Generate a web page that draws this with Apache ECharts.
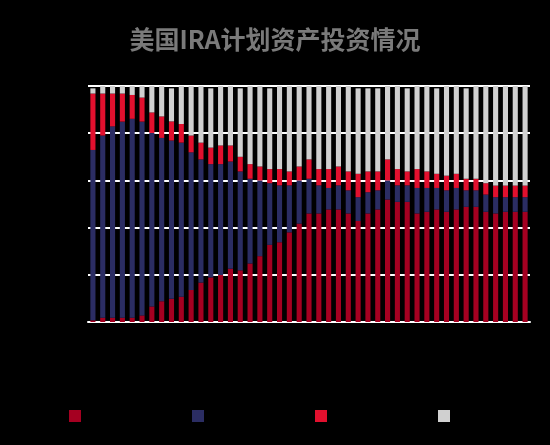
<!DOCTYPE html>
<html>
<head>
<meta charset="utf-8">
<script src="https://cdn.jsdelivr.net/npm/echarts@6/dist/echarts.min.js"></script>
<style>html,body{margin:0;background:#000}#main{width:550px;height:445px}</style>
</head>
<body>
<div id="main"></div>
<script>
// 各类资产占比(%)，按期
const periods = Array.from({length: 45}, (_, i) => String(i + 1));
const equity = [0.7,1.8,1.8,1.8,1.8,2.8,6.6,8.8,9.8,10.7,13.6,16.7,18.9,19.9,22.6,21.9,24.8,27.9,32.7,33.8,38.0,41.7,46.0,46.0,47.7,47.7,46.0,42.8,46.0,47.7,51.9,50.9,50.9,46.0,46.7,47.7,46.7,47.7,48.8,48.8,46.7,46.0,46.7,46.7,46.7];
const bond = [72.2,77.2,81.1,83.1,84.3,82.1,73.5,69.2,67.1,65.3,58.3,52.2,48.0,47.0,45.4,41.9,35.9,32.1,26.1,24.1,19.9,18.3,14.7,11.9,9.1,10.2,9.8,10.1,9.0,8.1,8.1,7.0,7.0,10.8,10.1,9.1,9.1,9.1,7.0,7.0,7.3,6.9,6.2,6.2,6.2];
const cash = [23.9,17.8,13.9,11.9,10.1,10.2,8.7,9.1,8.1,7.9,7.1,7.1,7.0,7.9,6.8,6.2,6.2,5.9,6.0,6.9,5.9,5.9,8.2,6.9,8.0,8.0,8.0,9.9,8.8,8.0,8.9,6.9,5.9,8.0,7.0,6.0,6.2,6.0,4.9,4.9,4.8,4.9,4.9,4.9,4.9];
const other = [2.2,3.2,3.2,3.2,3.8,4.9,11.2,12.9,14.0,16.1,21.0,24.0,25.1,25.2,25.2,29.0,33.1,34.1,34.2,35.2,36.2,34.1,31.1,35.2,35.2,34.1,36.2,36.2,35.2,35.2,31.1,35.2,35.2,35.2,36.2,36.2,38.0,37.2,38.3,39.3,41.2,42.2,42.2,42.2,42.2];

const chart = echarts.init(document.getElementById('main'));

function bar(name, data, color) {
  return {name: name, type: 'bar', stack: 'all', data: data, barWidth: '52%', itemStyle: {color: color}};
}

chart.setOption({
  backgroundColor: '#000',
  animation: false,
  title: {
    text: '美国IRA计划资产投资情况', left: 'center', top: 22,
    textStyle: {color: '#7a7a7a', fontSize: 25, fontWeight: 'bold', fontFamily: 'Noto Sans CJK SC'}
  },
  legend: {
    bottom: 18, left: 64, itemWidth: 12, itemHeight: 12, itemGap: 82, icon: 'rect',
    textStyle: {color: '#000', fontSize: 12}
  },
  grid: {left: 88, right: 20, top: 86, bottom: 123},
  xAxis: {
    type: 'category', data: periods,
    axisLine: {lineStyle: {color: '#fff', width: 2}}, axisTick: {show: false},
    axisLabel: {color: '#000'}
  },
  yAxis: {
    type: 'value', min: 0, max: 100, interval: 20,
    axisLine: {show: false}, axisTick: {show: false}, axisLabel: {color: '#000'},
    splitLine: {lineStyle: {color: '#fff', width: 2}}
  },
  series: [
    bar('股票', equity, '#a50021'),
    bar('债券', bond, '#2b2d63'),
    bar('现金', cash, '#e2102e'),
    bar('其他', other, '#d0d0d0')
  ]
});
</script>
</body>
</html>
